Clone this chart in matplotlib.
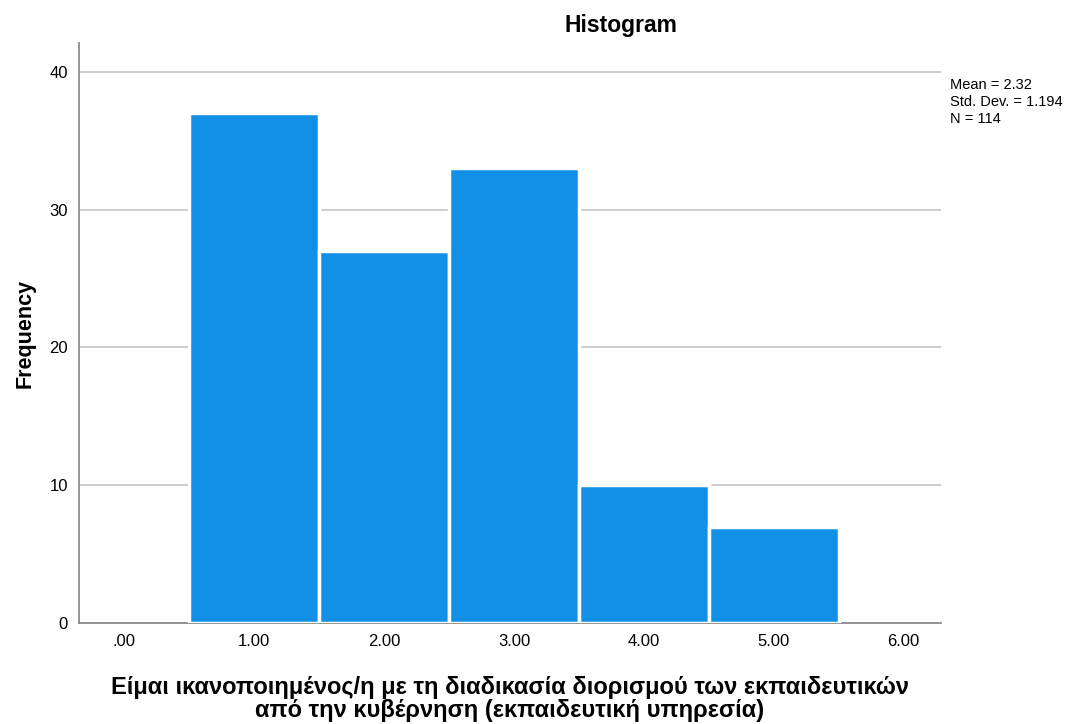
import matplotlib.pyplot as plt

plt.rcParams['font.family'] = ['Liberation Sans', 'DejaVu Sans']

values = [1, 2, 3, 4, 5]
counts = [37, 27, 33, 10, 7]
xticks = [0, 1, 2, 3, 4, 5, 6]
xtick_labels = ['.00', '1.00', '2.00', '3.00', '4.00', '5.00', '6.00']
yticks = [0, 10, 20, 30, 40]
stats = 'Mean = 2.32\nStd. Dev. = 1.194\nN = 114'
xlabel = 'Είμαι ικανοποιημένος/η με τη διαδικασία διορισμού των εκπαιδευτικών\nαπό την κυβέρνηση (εκπαιδευτική υπηρεσία)'

fig = plt.figure(figsize=(10.78, 7.24), dpi=100)
ax = fig.add_axes([0.0733, 0.1395, 0.7997, 0.8011])

ax.bar(values, counts, width=1.0, color='#1290e6', edgecolor='white', linewidth=2.5, zorder=3)

ax.set_xlim(-0.35, 6.29)
ax.set_ylim(0, 42.1)
ax.set_xticks(xticks)
ax.set_xticklabels(xtick_labels)
ax.set_yticks(yticks)
ax.tick_params(length=0, labelsize=12, pad=8)
ax.yaxis.grid(True, color='#c4c4c4', linewidth=1.2, zorder=0)
ax.set_axisbelow(True)

for s in ['top', 'right']:
    ax.spines[s].set_visible(False)
for s in ['left', 'bottom']:
    ax.spines[s].set_color('#8c8c8c')
    ax.spines[s].set_linewidth(1.3)

ax.set_ylabel('Frequency', fontsize=15.5, fontweight='bold', labelpad=10)
ax.set_xlabel(xlabel, fontsize=17, fontweight='bold', labelpad=19, linespacing=1.0)

fig.text(0.576, 0.965, 'Histogram', ha='center', va='center', fontsize=16.5, fontweight='bold')
fig.text(0.881, 0.892, stats, ha='left', va='top', fontsize=10.5, linespacing=1.25)

fig.savefig('out.png', dpi=100)
